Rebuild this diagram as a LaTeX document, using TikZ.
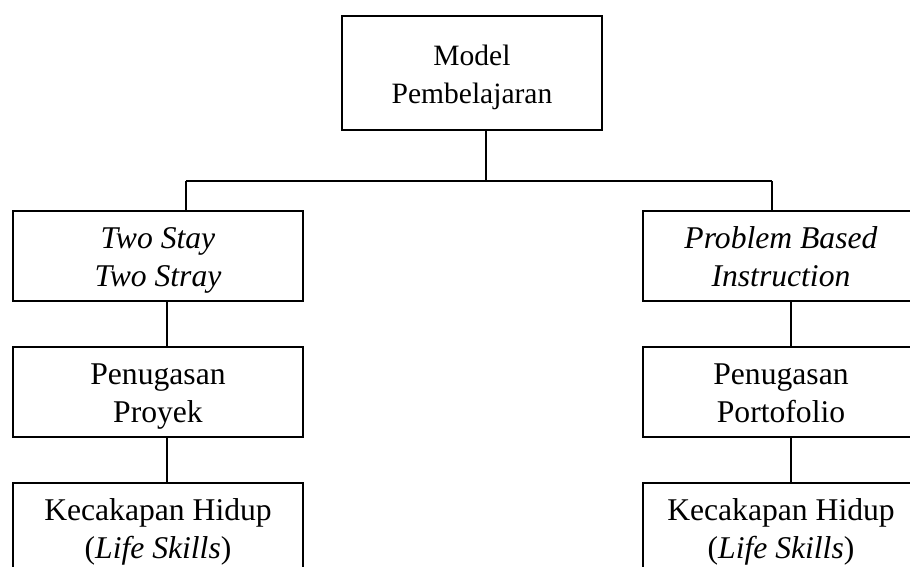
\documentclass[tikz,border=0pt]{standalone}
\usepackage{fontspec}
\setmainfont{Liberation Serif}
\usetikzlibrary{positioning}
\newcommand{\barisatas}{\rule{0pt}{19.7pt}}
\tikzset{
  kotak/.style={draw, line width=0.7pt, align=center, minimum height=1.8cm,
    inner ysep=0pt, font=\fontsize{18}{21.6}\selectfont},
  garis/.style={line width=0.7pt}
}

\begin{document}
\begin{tikzpicture}
  \useasboundingbox (0,0) rectangle (18.2,-11.34);
  % Top: the model
  \node[kotak, minimum width=5.2cm, minimum height=2.28cm, font=\fontsize{16.8}{21.6}\selectfont] (model) at (9.44,-1.46) {\barisatas Model\\Pembelajaran\strut};

  % Left branch
  \node[kotak, minimum width=5.8cm] (tsts) at (3.16,-5.12) {\barisatas\textit{Two Stay}\\\textit{Two Stray}\strut};
  \node[kotak, minimum width=5.8cm] (proyek) at (3.16,-7.84) {\barisatas Penugasan\\Proyek\strut};
  \node[kotak, minimum width=5.8cm] (hidupL) at (3.16,-10.56) {\barisatas Kecakapan Hidup\\(\textit{Life Skills})\strut};

  % Right branch
  \node[kotak, minimum width=5.52cm] (pbi) at (15.62,-5.12) {\barisatas\textit{Problem Based}\\\textit{Instruction}\strut};
  \node[kotak, minimum width=5.52cm] (porto) at (15.62,-7.84) {\barisatas Penugasan\\Portofolio\strut};
  \node[kotak, minimum width=5.52cm] (hidupR) at (15.62,-10.56) {\barisatas Kecakapan Hidup\\(\textit{Life Skills})\strut};

  % Connectors
  \coordinate (busL) at (3.72,-3.62);
  \coordinate (busR) at (15.44,-3.62);
  \draw[garis] ([xshift=0.28cm]model.south) -- ([xshift=0.28cm]model.south |- busL);
  \draw[garis] (busL) -- (busR);
  \draw[garis] (busL) -- (busL |- tsts.north);
  \draw[garis] (busR) -- (busR |- pbi.north);
  \draw[garis] ([xshift=0.18cm]tsts.south) -- ([xshift=0.18cm]proyek.north);
  \draw[garis] ([xshift=0.18cm]proyek.south) -- ([xshift=0.18cm]hidupL.north);
  \draw[garis] ([xshift=0.2cm]pbi.south) -- ([xshift=0.2cm]porto.north);
  \draw[garis] ([xshift=0.2cm]porto.south) -- ([xshift=0.2cm]hidupR.north);
\end{tikzpicture}
\end{document}
